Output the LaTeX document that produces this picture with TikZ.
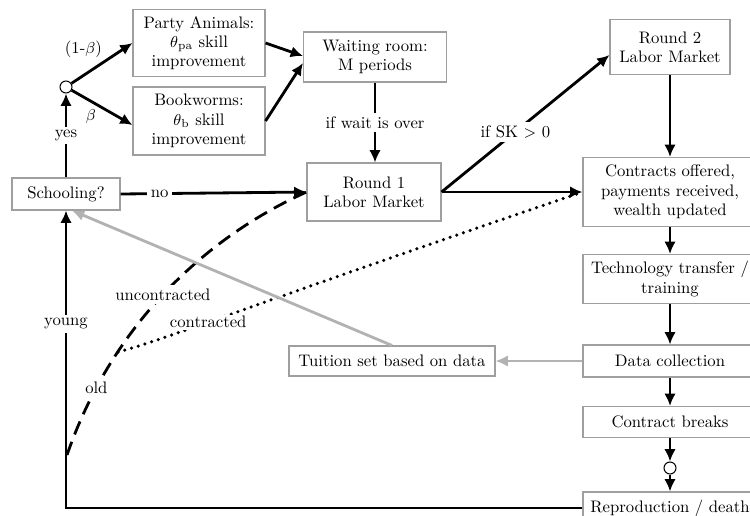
\documentclass[tikz,border=0pt]{standalone}
\usepackage{amsmath,amssymb}
\usepackage{tikz}
\usetikzlibrary{shapes}
\usetikzlibrary{arrows.meta}
\tikzset{
  box/.style={draw=gray!75, line width=.6pt, fill=white, align=center, inner sep=1pt},
  knot/.style={circle, draw=black, line width=.6pt, fill=white, minimum size=.24cm, inner sep=0pt},
  lbl/.style={fill=white, inner sep=2pt},
  oldpath/.style={dash pattern=on 8pt off 4.5pt},
  contrpath/.style={dash pattern=on 0pt off 4pt, line cap=round, line width=2pt},
  feedback/.style={gray!60, line width=1.6pt}
}

\begin{document}
\begin{tikzpicture}[x=0.02cm, y=-0.02cm, ultra thick, >={Latex[length=7pt,width=6.5pt]},
  font=\fontsize{9.5}{11}\selectfont]
 \clip (0,0) rectangle (750,515);
% left side: schooling choice
\node[box, minimum width=2.16cm, minimum height=.64cm] (school) at (66,194) {Schooling?};
\node[knot] (split) at (66,87) {};
\node[box, minimum width=2.64cm, minimum height=1.34cm] (party) at (199,43) {Party Animals:\\ $\theta$\textsubscript{pa} skill\\ improvement};
\node[box, minimum width=2.64cm, minimum height=1.36cm] (book) at (199,121) {Bookworms:\\ $\theta$\textsubscript{b} skill\\ improvement};
\node[box, minimum width=2.86cm, minimum height=1cm] (wait) at (375,57) {Waiting room:\\ M periods};
\node[box, minimum width=2.68cm, minimum height=1.16cm] (round1) at (374,192) {Round 1\\ Labor Market};
% right column
\node[box, minimum width=2.4cm, minimum height=1.1cm] (round2) at (670,47) {Round 2\\ Labor Market};
\node[box, minimum width=3.48cm, minimum height=1.38cm] (offer) at (670,192) {Contracts offered,\\ payments received,\\ wealth updated};
\node[box, minimum width=3.48cm, minimum height=.98cm] (train) at (670,279) {Technology transfer /\\ training};
\node[box, minimum width=3.48cm, minimum height=.64cm] (data) at (670,361) {Data collection};
\node[box, minimum width=3.48cm, minimum height=.62cm] (breaks) at (670,422) {Contract breaks};
\node[knot] (fate) at (670,468) {};
\node[box, minimum width=3.48cm, minimum height=.64cm] (repro) at (670,508) {Reproduction / death};
\node[box, minimum width=4.12cm, minimum height=.6cm] (tuition) at (392,361) {Tuition set based on data};
\coordinate (oldstart) at (67,455);
\coordinate (fork) at (118,352);

\draw[->] (school) -- node[lbl] {yes} (split);
\draw[->] (split) -- node[pos=.55, above left, inner sep=1pt] {(1-$\beta$)} (party.west);
\draw[->] (split) -- node[pos=.45, below left, inner sep=1pt] {$\beta$} ([yshift=-.08cm]book.west);
\draw[->] (party.east) -- ([yshift=.02cm]wait.west);
\draw[->] (book.east) -- ([yshift=-.12cm]wait.west);
\draw[->] (wait.south) -- node[lbl] {if wait is over} (wait.south |- round1.north);
\draw[->] (school.east) -- node[lbl, pos=.21] {no} (round1.west);
\draw[->] (round1.east) -- node[lbl, pos=.44] {if SK $>$ 0} ([yshift=-.16cm]round2.west);
\draw[->] (round1.east) -- (offer.west);
\draw[->] (round2) -- (offer);
\draw[->] (offer) -- (train);
\draw[->] (train) -- (data);
\draw[->] (data) -- (breaks);
\draw[->] (breaks) -- (fate);
\draw[->] (fate) -- (repro);
\draw[->] (repro.west) -| node[lbl, pos=.81] {young} (school.south);
% old agents re-enter the market
\draw[oldpath] (oldstart) .. controls (110,330) and (200,240) .. (round1.west)
  node[lbl, pos=.19] {old} node[lbl, pos=.5] {uncontracted};
\draw[contrpath] (fork) .. controls (170,338) and (250,305) .. (offer.west)
  node[lbl, pos=.4, inner sep=1pt] {contracted};
% tuition feedback
\draw[feedback, ->] (data.west) -- (tuition.east);
\draw[feedback, ->] (tuition.north) -- ([xshift=.12cm]school.south);
\end{tikzpicture}
\end{document}
